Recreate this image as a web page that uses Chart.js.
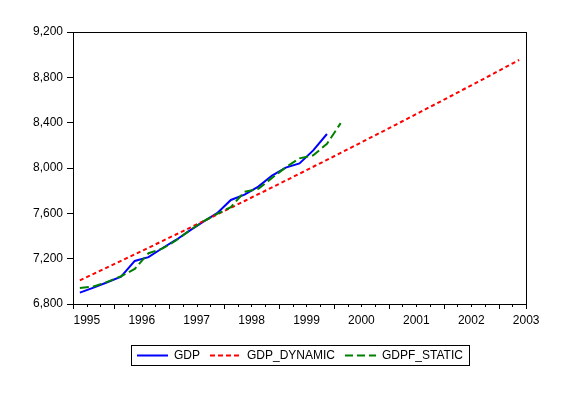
<!DOCTYPE html>
<html>
<head>
<meta charset="utf-8">
<script src="https://cdn.jsdelivr.net/npm/chart.js@4"></script>
<style>
  html, body { margin: 0; padding: 0; background: #fff; }
  #wrap { width: 566px; height: 393px; }
</style>
</head>
<body>
<div id="wrap"><canvas id="gdpChart" width="566" height="393"></canvas></div>
<script>
// ===================== DATA =====================
const quarters = [
  "1995Q2", "1995Q3", "1995Q4",
  "1996Q1", "1996Q2", "1996Q3", "1996Q4",
  "1997Q1", "1997Q2", "1997Q3", "1997Q4",
  "1998Q1", "1998Q2", "1998Q3", "1998Q4",
  "1999Q1", "1999Q2", "1999Q3", "1999Q4",
  "2000Q1", "2000Q2", "2000Q3", "2000Q4",
  "2001Q1", "2001Q2", "2001Q3", "2001Q4",
  "2002Q1", "2002Q2", "2002Q3", "2002Q4",
  "2003Q1", "2003Q2"
];

const gdp = [
  6900, 6944, 6992, 7041, 7180, 7213, 7292, 7365, 7448, 7527,
  7601, 7718, 7765, 7836, 7933, 8003, 8040, 8155, 8300
];

const gdpDynamic = [
  7009, 7066, 7123, 7181, 7238, 7296, 7355, 7413, 7472, 7531,
  7590, 7649, 7709, 7769, 7829, 7889, 7950, 8011, 8072, 8133,
  8195, 8257, 8319, 8381, 8444, 8507, 8570, 8633, 8697, 8760,
  8824, 8889, 8953
];

const gdpfStatic = [
  6942, 6955, 6995, 7045, 7109, 7248, 7288, 7360, 7450, 7530,
  7595, 7655, 7790, 7816, 7913, 8006, 8085, 8112, 8213, 8396
];

const yTicks = [6800, 7200, 7600, 8000, 8400, 8800, 9200];

const FONT = "'Liberation Sans', Arial, sans-serif";

// ===================== PLUGINS =====================
// box round the plot + quarter tick marks on the x axis
const frameAndTicks = {
  id: "frameAndTicks",
  afterDraw(chart) {
    const ctx = chart.ctx;
    const a = chart.chartArea;
    const x = chart.scales.x;
    ctx.save();
    ctx.strokeStyle = "#000";
    ctx.lineWidth = 1;
    ctx.strokeRect(Math.round(a.left) + 0.5, Math.round(a.top) + 0.5,
      Math.round(a.right - a.left), Math.round(a.bottom - a.top));

    ctx.beginPath();
    for (let i = 0; i <= quarters.length; i++) {
      const px = Math.round(x.getPixelForValue(i - 0.5)) + 0.5;
      const q = quarters[i] || "";
      const major = i === 0 || i === quarters.length || q.endsWith("Q1");
      ctx.moveTo(px, a.bottom);
      ctx.lineTo(px, a.bottom + (major ? 5 : 3));
    }
    ctx.stroke();
    ctx.restore();
  }
};

// legend in a box, centred under the plot
const boxLegend = {
  id: "boxLegend",
  afterDraw(chart) {
    const ctx = chart.ctx;
    const a = chart.chartArea;
    const sets = chart.data.datasets;
    const lineW = 31, gapText = 6, gapItem = 10, pad = 6;
    ctx.save();
    ctx.font = "12px " + FONT;
    let total = 0;
    sets.forEach((d, i) => {
      total += lineW + gapText + ctx.measureText(d.label).width;
      if (i < sets.length - 1) total += gapItem;
    });
    const w = total + pad * 2;
    const h = 20;
    const left = Math.round((a.left + a.right) / 2 - w / 2);
    const top = 345;
    ctx.strokeStyle = "#000";
    ctx.lineWidth = 1;
    ctx.strokeRect(left + 0.5, top + 0.5, Math.round(w), h);

    let cx = left + pad;
    const cy = top + h / 2 + 0.5;
    sets.forEach((d) => {
      ctx.strokeStyle = d.borderColor;
      ctx.lineWidth = 2;
      ctx.setLineDash(d.legendDash || []);
      ctx.beginPath();
      ctx.moveTo(cx, cy);
      ctx.lineTo(cx + lineW, cy);
      ctx.stroke();
      ctx.setLineDash([]);
      cx += lineW + gapText;
      ctx.fillStyle = "#000";
      ctx.textBaseline = "middle";
      ctx.fillText(d.label, cx, cy);
      cx += ctx.measureText(d.label).width + gapItem;
    });
    ctx.restore();
  }
};

// ===================== CHART =====================
const ctxGdp = document.getElementById("gdpChart").getContext("2d");

new Chart(ctxGdp, {
  type: "line",
  data: {
    labels: quarters,
    datasets: [
      {
        label: "GDP",
        data: gdp,
        borderColor: "#0000ff",
        borderWidth: 2,
        pointRadius: 0,
        order: 3
      },
      {
        label: "GDP_DYNAMIC",
        data: gdpDynamic,
        borderColor: "#ff0000",
        borderWidth: 2,
        borderDash: [4, 3],
        legendDash: [5, 3],
        pointRadius: 0,
        order: 2
      },
      {
        label: "GDPF_STATIC",
        data: gdpfStatic,
        borderColor: "#008000",
        borderWidth: 2,
        borderDash: [9, 4],
        legendDash: [8, 4],
        pointRadius: 0,
        order: 1
      }
    ]
  },
  options: {
    responsive: false,
    animation: false,
    layout: {
      padding: { top: 32, right: 40, bottom: 59, left: 0 }
    },
    plugins: {
      legend: { display: false },
      tooltip: { enabled: false }
    },
    scales: {
      x: {
        type: "category",
        offset: true,
        grid: { display: false, drawTicks: true, tickLength: 5 },
        border: { display: true, color: "#000", width: 1 },
        ticks: {
          autoSkip: false,
          maxRotation: 0,
          padding: 4,
          labelOffset: 7,
          color: "#000",
          font: { family: FONT, size: 12 },
          callback: function (value) {
            const q = this.getLabelForValue(value);
            return q.endsWith("Q2") ? q.slice(0, 4) : "";
          }
        },
        afterFit: (scale) => { scale.height = 30; }
      },
      y: {
        min: yTicks[0],
        max: yTicks[yTicks.length - 1],
        afterBuildTicks: (scale) => {
          scale.ticks = yTicks.map((v) => ({ value: v }));
        },
        grid: {
          drawOnChartArea: false,
          drawTicks: true,
          tickLength: 6,
          tickColor: "#000"
        },
        border: { display: true, color: "#000", width: 1 },
        ticks: {
          padding: 4,
          color: "#000",
          font: { family: FONT, size: 12 },
          callback: (v) => v.toLocaleString("en-US")
        },
        afterFit: (scale) => { scale.width = 73; }
      }
    }
  },
  plugins: [frameAndTicks, boxLegend]
});
</script>
</body>
</html>
